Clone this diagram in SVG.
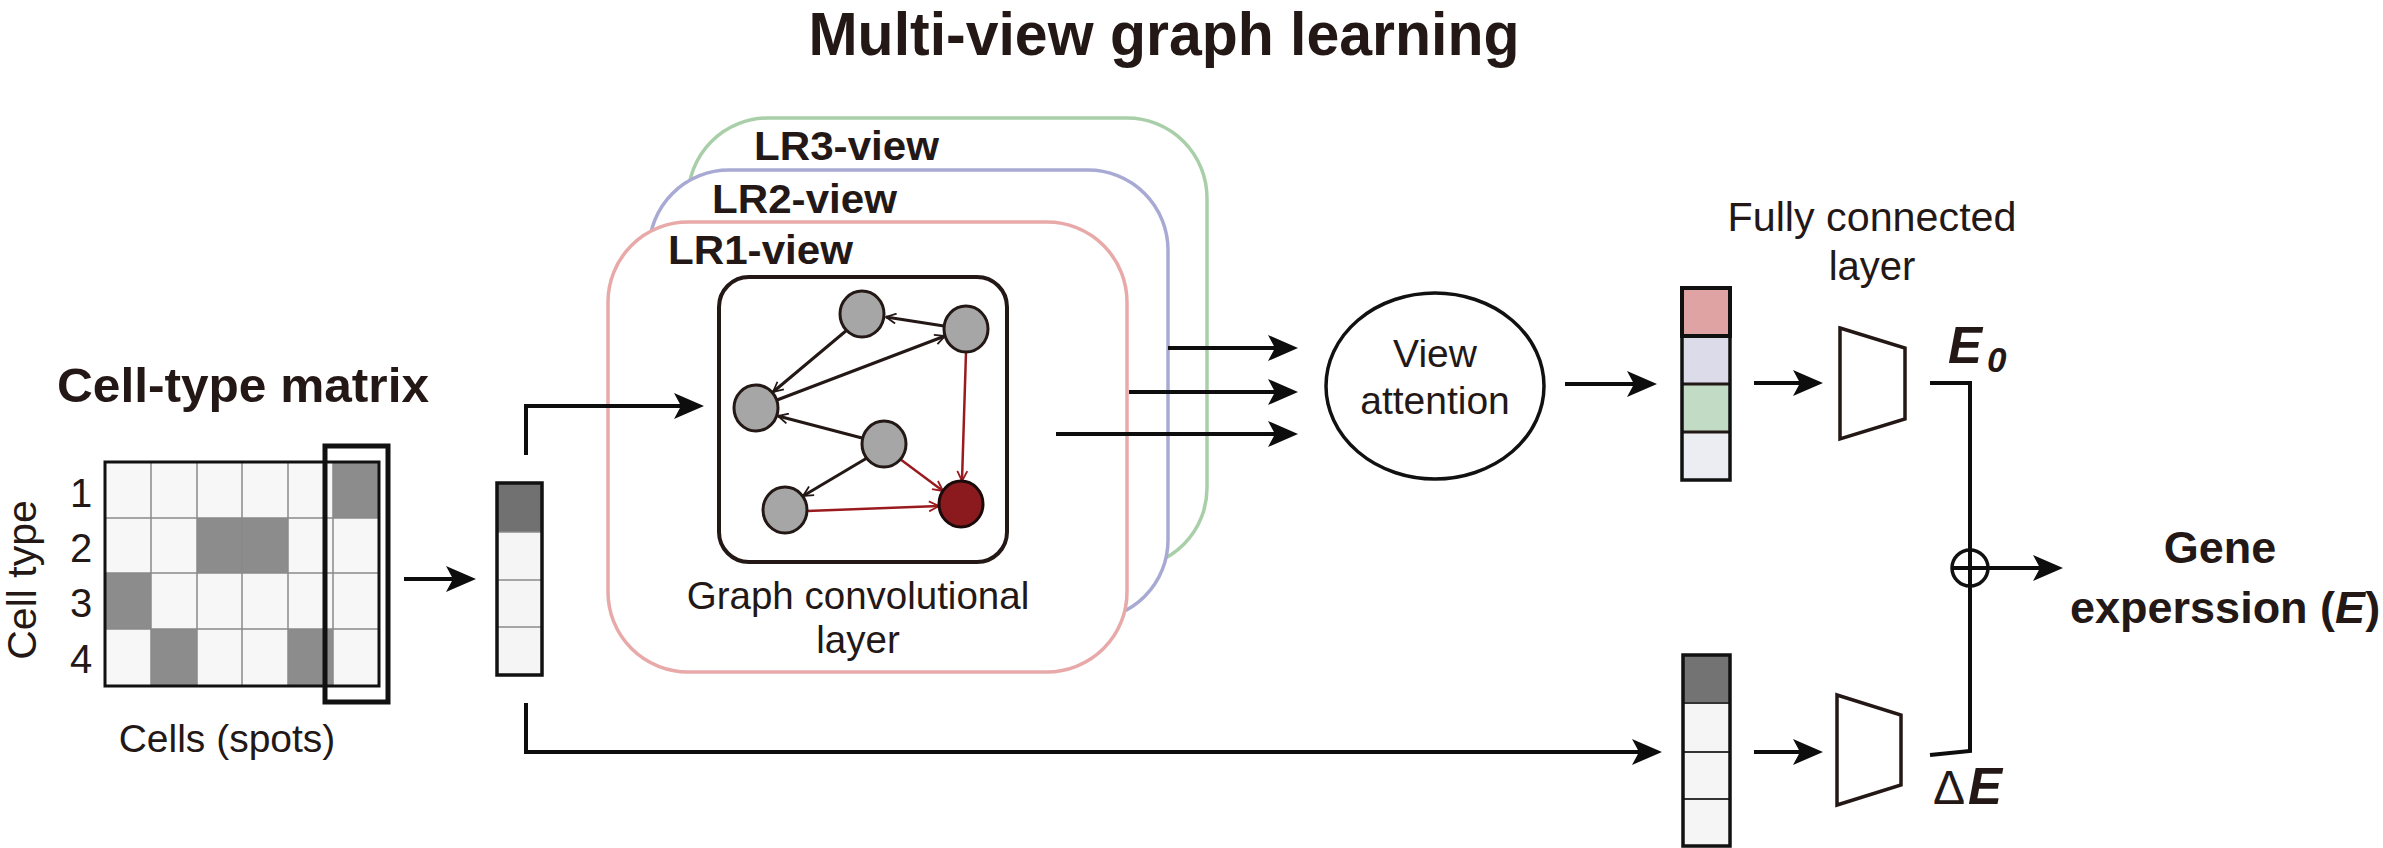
<svg xmlns="http://www.w3.org/2000/svg" width="2383" height="848" viewBox="0 0 2383 848">
<style>
  text { font-family: "Liberation Sans", Arial, Helvetica, sans-serif; fill: #231815; }
  .b { font-weight: bold; }
  .bi { font-weight: bold; font-style: italic; }
  .view { fill: #ffffff; stroke-width: 3.5; }
  .conn { fill: none; stroke: #0d0d0d; stroke-width: 4; }
  .edge { fill: none; stroke: #231815; stroke-width: 3; }
  .redge { fill: none; stroke: #9a1b1f; stroke-width: 2.5; }
  .node { fill: #a6a6a6; stroke: #231815; stroke-width: 3; }
  .trap { fill: #ffffff; stroke: #231815; stroke-width: 3.5; }
  .cellL { fill: #f5f5f5; }
  .grid { stroke: #8a8a8a; stroke-width: 1.5; }
  .vecbox { fill: none; stroke: #111111; stroke-width: 3.5; }
</style>
<defs>
  <marker id="arrow" viewBox="0 0 30 26" refX="20" refY="13" markerWidth="30" markerHeight="26" markerUnits="userSpaceOnUse" orient="auto">
    <path d="M0,0 L30,13 L0,26 L7,13 Z" fill="#0d0d0d"/>
  </marker>
  <marker id="openD" viewBox="0 0 12 12" refX="11" refY="6" markerWidth="12" markerHeight="12" markerUnits="userSpaceOnUse" orient="auto">
    <path d="M1,1 L11,6 L1,11" fill="none" stroke="#231815" stroke-width="1.8"/>
  </marker>
  <marker id="openR" viewBox="0 0 12 12" refX="11" refY="6" markerWidth="12" markerHeight="12" markerUnits="userSpaceOnUse" orient="auto">
    <path d="M1,1 L11,6 L1,11" fill="none" stroke="#9a1b1f" stroke-width="1.8"/>
  </marker>
</defs>
<rect width="2383" height="848" fill="#ffffff"/>

<g id="title">
  <text class="b" x="1164" y="55" font-size="62" text-anchor="middle" textLength="711" lengthAdjust="spacingAndGlyphs">Multi-view graph learning</text>
</g>

<g id="celltype-matrix">
  <text class="b" x="57" y="402" font-size="48" textLength="372" lengthAdjust="spacingAndGlyphs">Cell-type matrix</text>
  <text x="36" y="580" font-size="41" text-anchor="middle" transform="rotate(-90 36 580)">Cell type</text>
  <text x="81" y="507" font-size="40" text-anchor="middle">1</text>
  <text x="81" y="562" font-size="40" text-anchor="middle">2</text>
  <text x="81" y="617" font-size="40" text-anchor="middle">3</text>
  <text x="81" y="673" font-size="40" text-anchor="middle">4</text>
  <rect x="105" y="462" width="274" height="224" fill="#f7f7f7"/>
  <rect x="333" y="462" width="46" height="56" fill="#8c8c8c"/>
  <rect x="197" y="518" width="91" height="55" fill="#8c8c8c"/>
  <rect x="105" y="573" width="46" height="56" fill="#8c8c8c"/>
  <rect x="151" y="629" width="46" height="57" fill="#8c8c8c"/>
  <rect x="288" y="629" width="45" height="57" fill="#8c8c8c"/>
  <g class="grid">
    <line x1="151" y1="462" x2="151" y2="686"/>
    <line x1="197" y1="462" x2="197" y2="686"/>
    <line x1="242" y1="462" x2="242" y2="686"/>
    <line x1="288" y1="462" x2="288" y2="686"/>
    <line x1="333" y1="462" x2="333" y2="686"/>
    <line x1="105" y1="518" x2="379" y2="518"/>
    <line x1="105" y1="573" x2="379" y2="573"/>
    <line x1="105" y1="629" x2="379" y2="629"/>
  </g>
  <rect x="105" y="462" width="274" height="224" fill="none" stroke="#111111" stroke-width="3"/>
  <rect x="325" y="446" width="63" height="256" fill="none" stroke="#111111" stroke-width="5"/>
  <text x="227" y="752" font-size="39" text-anchor="middle">Cells (spots)</text>
</g>

<g id="vector-input">
  <rect x="497" y="483" width="45" height="192" class="cellL"/>
  <rect x="497" y="483" width="45" height="49" fill="#717171"/>
  <g class="grid">
    <line x1="497" y1="532" x2="542" y2="532"/>
    <line x1="497" y1="580" x2="542" y2="580"/>
    <line x1="497" y1="627" x2="542" y2="627"/>
  </g>
  <rect x="497" y="483" width="45" height="192" class="vecbox"/>
</g>

<g id="lr3-view">
  <rect x="688" y="118" width="519" height="450" rx="80" ry="80" class="view" stroke="#a9cfa9"/>
  <text class="b" x="754" y="160" font-size="41" textLength="185" lengthAdjust="spacingAndGlyphs">LR3-view</text>
</g>
<g id="lr2-view">
  <rect x="649" y="170" width="519" height="450" rx="80" ry="80" class="view" stroke="#a8aad4"/>
  <text class="b" x="712" y="213" font-size="41" textLength="185" lengthAdjust="spacingAndGlyphs">LR2-view</text>
</g>
<g id="lr1-view">
  <rect x="608" y="222" width="519" height="450" rx="80" ry="80" class="view" stroke="#e8a9a9"/>
  <text class="b" x="668" y="264" font-size="41" textLength="185" lengthAdjust="spacingAndGlyphs">LR1-view</text>
</g>

<g id="graph-conv-layer">
  <rect x="719" y="277" width="288" height="285" rx="30" ry="30" fill="#ffffff" stroke="#231815" stroke-width="4"/>
  <g id="graph-edges">
    <line x1="944" y1="326" x2="886" y2="317" class="edge" marker-end="url(#openD)"/>
    <line x1="847" y1="330" x2="773" y2="392" class="edge" marker-end="url(#openD)"/>
    <line x1="777" y1="400" x2="945" y2="336" class="edge" marker-end="url(#openD)"/>
    <line x1="862" y1="438" x2="778" y2="416" class="edge" marker-end="url(#openD)"/>
    <line x1="867" y1="458" x2="803" y2="496" class="edge" marker-end="url(#openD)"/>
    <line x1="900" y1="459" x2="943" y2="491" class="redge" marker-end="url(#openR)"/>
    <line x1="966" y1="352" x2="962" y2="481" class="redge" marker-end="url(#openR)"/>
    <line x1="807" y1="511" x2="939" y2="506" class="redge" marker-end="url(#openR)"/>
  </g>
  <ellipse cx="862" cy="314" rx="22" ry="23" class="node"/>
  <ellipse cx="966" cy="329" rx="22" ry="23" class="node"/>
  <ellipse cx="756" cy="408" rx="22" ry="23" class="node"/>
  <ellipse cx="884" cy="444" rx="22" ry="23" class="node"/>
  <ellipse cx="785" cy="510" rx="22" ry="23" class="node"/>
  <ellipse cx="961" cy="504" rx="22" ry="23" fill="#8b1a1f" stroke="#1a0a0a" stroke-width="3"/>
  <text x="858" y="609" font-size="38.5" text-anchor="middle">Graph convolutional</text>
  <text x="858" y="653" font-size="38.5" text-anchor="middle">layer</text>
</g>

<g id="view-attention">
  <ellipse cx="1435" cy="386" rx="109" ry="93" fill="#ffffff" stroke="#111111" stroke-width="3.5"/>
  <text x="1435" y="367" font-size="39" text-anchor="middle">View</text>
  <text x="1435" y="414" font-size="39" text-anchor="middle">attention</text>
</g>

<g id="vector-concat">
  <rect x="1682" y="288" width="48" height="48" fill="#dfa3a3"/>
  <rect x="1682" y="336" width="48" height="48" fill="#dcdbea"/>
  <rect x="1682" y="384" width="48" height="48" fill="#c1dbc5"/>
  <rect x="1682" y="432" width="48" height="48" fill="#ecedf3"/>
  <g stroke="#231815" stroke-width="3">
    <line x1="1682" y1="336" x2="1730" y2="336"/>
    <line x1="1682" y1="384" x2="1730" y2="384"/>
    <line x1="1682" y1="432" x2="1730" y2="432"/>
  </g>
  <rect x="1682" y="288" width="48" height="48" fill="none" stroke="#111111" stroke-width="4"/>
  <rect x="1682" y="288" width="48" height="192" class="vecbox"/>
</g>

<g id="fc-label">
  <text x="1872" y="231" font-size="40" text-anchor="middle" textLength="289" lengthAdjust="spacingAndGlyphs">Fully connected</text>
  <text x="1872" y="280" font-size="40" text-anchor="middle">layer</text>
</g>

<g id="fc-top">
  <polygon points="1840,328 1905,348 1905,419 1840,439" class="trap"/>
  <text class="bi" x="1948" y="363" font-size="51">E</text>
  <text class="bi" x="1987" y="372" font-size="35">0</text>
</g>

<g id="vector-residual">
  <rect x="1683" y="655" width="47" height="192" class="cellL"/>
  <rect x="1683" y="655" width="47" height="48" fill="#737373"/>
  <g stroke="#333333" stroke-width="1.8">
    <line x1="1683" y1="703" x2="1730" y2="703"/>
    <line x1="1683" y1="752" x2="1730" y2="752"/>
    <line x1="1683" y1="799" x2="1730" y2="799"/>
  </g>
  <rect x="1683" y="655" width="47" height="191" class="vecbox"/>
</g>

<g id="fc-bottom">
  <polygon points="1837,695 1901,715 1901,785 1837,805" class="trap"/>
  <text x="1933" y="804" font-size="48">Δ</text>
  <text class="bi" x="1968" y="804" font-size="51">E</text>
</g>

<g id="sum">
  <circle cx="1970" cy="568" r="18" fill="#ffffff" stroke="#111111" stroke-width="3.5"/>
</g>

<g id="output-label">
  <text class="b" x="2220" y="563" font-size="45" text-anchor="middle">Gene</text>
  <text class="b" x="2070" y="623" font-size="45">experssion (<tspan class="bi">E</tspan>)</text>
</g>

<g id="connectors">
  <path class="conn" d="M404,579 H466" marker-end="url(#arrow)"/>
  <path class="conn" d="M526,455 V406 H694" marker-end="url(#arrow)"/>
  <path class="conn" d="M526,703 V752 H1652" marker-end="url(#arrow)"/>
  <path class="conn" d="M1168,348 H1288" marker-end="url(#arrow)"/>
  <path class="conn" d="M1129,392 H1288" marker-end="url(#arrow)"/>
  <path class="conn" d="M1056,434 H1288" marker-end="url(#arrow)"/>
  <path class="conn" d="M1565,384 H1647" marker-end="url(#arrow)"/>
  <path class="conn" d="M1754,383 H1813" marker-end="url(#arrow)"/>
  <path class="conn" d="M1754,752 H1813" marker-end="url(#arrow)"/>
  <path class="conn" stroke-width="3.5" d="M1930,383 H1970 V751 L1930,755"/>
  <path class="conn" stroke-width="3.5" d="M1952,568 H2053" marker-end="url(#arrow)"/>
</g>
</svg>
